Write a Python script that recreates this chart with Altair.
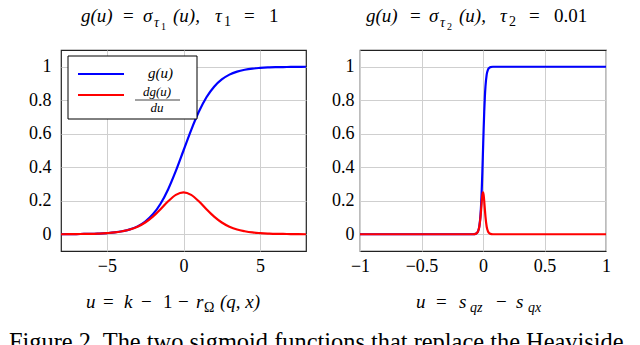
import altair as alt
import pandas as pd

# ---- data ----
left_u = [-8, -7.5, -7, -6.5, -6, -5.5, -5, -4.5, -4, -3.5, -3, -2.5, -2, -1.5, -1, -0.5,
          0, 0.5, 1, 1.5, 2, 2.5, 3, 3.5, 4, 4.5, 5, 5.5, 6, 6.5, 7, 7.5, 8]
left_g = [0.000, 0.001, 0.001, 0.002, 0.002, 0.004, 0.007, 0.011, 0.018, 0.029, 0.047, 0.076,
          0.119, 0.182, 0.269, 0.378, 0.500, 0.622, 0.731, 0.818, 0.881, 0.924, 0.953, 0.971,
          0.982, 0.989, 0.993, 0.996, 0.998, 0.998, 0.999, 0.999, 1.000]
left_dg = [0.000, 0.001, 0.001, 0.002, 0.002, 0.004, 0.007, 0.011, 0.018, 0.028, 0.045, 0.070,
           0.105, 0.149, 0.197, 0.235, 0.250, 0.235, 0.197, 0.149, 0.105, 0.070, 0.045, 0.028,
           0.018, 0.011, 0.007, 0.004, 0.002, 0.002, 0.001, 0.001, 0.000]

right_u = [-1, -0.1, -0.08, -0.06, -0.05, -0.04, -0.03, -0.02, -0.015, -0.01, -0.005, 0,
           0.005, 0.01, 0.015, 0.02, 0.03, 0.04, 0.05, 0.06, 0.08, 0.1, 1]
right_g = [0.000, 0.000, 0.000, 0.002, 0.007, 0.018, 0.047, 0.119, 0.182, 0.269, 0.378, 0.500,
           0.622, 0.731, 0.818, 0.881, 0.953, 0.982, 0.993, 0.998, 1.000, 1.000, 1.000]
right_dg = [0.000, 0.000, 0.000, 0.002, 0.007, 0.018, 0.045, 0.105, 0.149, 0.197, 0.235, 0.250,
            0.235, 0.197, 0.149, 0.105, 0.045, 0.018, 0.007, 0.002, 0.000, 0.000, 0.000]

left_xticks = [-5, 0, 5]
right_xticks = [-1, -0.5, 0, 0.5, 1]
yticks = [0, 0.2, 0.4, 0.6, 0.8, 1]

FONT = "Liberation Serif"
W, H = 245, 201
BLUE, RED = "#0000ff", "#ff0000"
FS = 19      # main math font size
SS = 14      # subscript size
SD = 10      # second-level subscript size
one = pd.DataFrame({"k": [0]})


def txt(s, x, y, size=FS, style="italic", align="left"):
    return alt.Chart(one).mark_text(
        text=s, font=FONT, fontSize=size, fontStyle=style, align=align,
        baseline="alphabetic", color="black"
    ).encode(x=alt.value(x), y=alt.value(y))


def curves(u, g, dg, dom, xt, lab_pad):
    df = pd.DataFrame({"u": u, "g": g, "dg": dg})
    xs = alt.X("u:Q", scale=alt.Scale(domain=dom, nice=False, zero=False),
               axis=alt.Axis(values=xt, format="~g", title=None, labelPadding=6,
                             labelFlush=False))
    ys = alt.Y("g:Q", scale=alt.Scale(domain=[-0.1, 1.1], nice=False, zero=False),
               axis=alt.Axis(values=yticks, format="~g", title=None, labelPadding=lab_pad,
                             labelFlush=False))
    blue = alt.Chart(df).mark_line(color=BLUE, strokeWidth=2.2, interpolate="monotone",
                                   clip=True).encode(x=xs, y=ys)
    red = alt.Chart(df).mark_line(color=RED, strokeWidth=2.2, interpolate="monotone",
                                  clip=True).encode(x="u:Q", y="dg:Q")
    return blue, red


lb, lr = curves(left_u, left_g, left_dg, [-8, 8], left_xticks, 10)
rb, rr = curves(right_u, right_g, right_dg, [-1, 1], right_xticks, 6)

legend_box = alt.Chart(one).mark_rect(fill="white", stroke="black", strokeWidth=1).encode(
    x=alt.value(7), x2=alt.value(136), y=alt.value(6), y2=alt.value(69))
leg_blue = alt.Chart(one).mark_rule(color=BLUE, strokeWidth=2.2).encode(
    x=alt.value(17), x2=alt.value(63), y=alt.value(24))
leg_red = alt.Chart(one).mark_rule(color=RED, strokeWidth=2.2).encode(
    x=alt.value(17), x2=alt.value(63), y=alt.value(45))
frac_bar = alt.Chart(one).mark_rule(color="#444", strokeWidth=1).encode(
    x=alt.value(74), x2=alt.value(119), y=alt.value(50))

TY, TS = -28, -23     # title baseline / subscript baseline (relative to plot top)
BY, BS = 258, 262     # bottom title baseline / subscript baseline

left = alt.layer(
    lb, lr,
    legend_box, leg_blue, leg_red, frac_bar,
    txt("g(u)", 87, 28, size=15),
    txt("dg(u)", 96, 46, size=13, align="center"),
    txt("du", 96, 62, size=13, align="center"),
    # title  g(u) = σ_τ1(u), τ1 = 1
    txt("g(u)", 20, TY),
    txt("=", 62, TY, style="normal"),
    txt("σ", 82, TY),
    txt("τ", 93, TS, size=SS),
    txt("1", 100, TS + 3, size=SD, style="normal"),
    txt("(u),", 112, TY),
    txt("τ", 154, TY),
    txt("1", 163, TY + 4, size=SS, style="normal"),
    txt("=", 183, TY, style="normal"),
    txt("1", 208, TY, style="normal"),
    # x-axis title  u = k − 1 − r_Ω(q, x)
    txt("u", 25, BY),
    txt("=", 42, BY, style="normal"),
    txt("k", 63, BY),
    txt("−", 80, BY, style="normal"),
    txt("1", 102, BY, style="normal"),
    txt("−", 117, BY, style="normal"),
    txt("r", 135, BY),
    txt("Ω", 143, BS, size=SS, style="normal"),
    txt("(q, x)", 159, BY),
    # caption
    alt.Chart(one).mark_text(
        text="Figure 2. The two sigmoid functions that replace the Heaviside",
        font=FONT, fontSize=24.4, align="left", baseline="alphabetic", color="black",
        limit=630, ellipsis=""
    ).encode(x=alt.value(-52), y=alt.value(300)),
).properties(width=W, height=H)

right = alt.layer(
    rb, rr,
    # title  g(u) = σ_τ2(u), τ2 = 0.01
    txt("g(u)", 6, TY),
    txt("=", 50, TY, style="normal"),
    txt("σ", 69, TY),
    txt("τ", 80, TS, size=SS),
    txt("2", 87, TS + 3, size=SD, style="normal"),
    txt("(u),", 99, TY),
    txt("τ", 140, TY),
    txt("2", 149, TY + 4, size=SS, style="normal"),
    txt("=", 169, TY, style="normal"),
    txt("0.01", 194, TY, style="normal"),
    # x-axis title  u = s_qz − s_qx
    txt("u", 56, BY),
    txt("=", 76, BY, style="normal"),
    txt("s", 99, BY),
    txt("qz", 110, BS, size=SS),
    txt("−", 136, BY, style="normal"),
    txt("s", 156, BY),
    txt("qx", 168, BS, size=SS),
).properties(width=W + 1, height=H)

chart = alt.hconcat(left, right, spacing=54, bounds="flush").properties(
    padding={"left": 0, "top": -2, "right": 0, "bottom": 0}
).configure_view(stroke="#222", strokeWidth=1.2).configure_axis(
    labelFont=FONT, labelFontSize=18, labelColor="black",
    grid=True, gridColor="#cfcfcf", gridWidth=1,
    ticks=False, domain=False
)

chart.save("out.html", embed_options={"renderer": "svg", "actions": False})
